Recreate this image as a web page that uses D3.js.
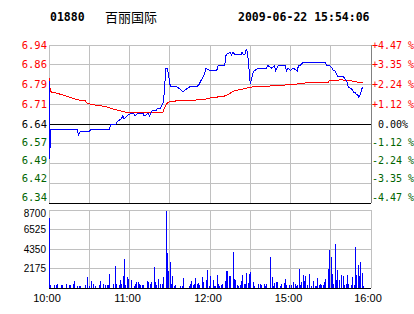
<!DOCTYPE html>
<html lang="zh">
<head>
<meta charset="UTF-8">
<title>01880 百丽国际</title>
<script src="https://d3js.org/d3.v7.min.js"></script>
<style>
  body { margin: 0; background: #fff; }
  svg { display: block; }
  .mono { font-family: "DejaVu Sans Mono", monospace; font-size: 10px; }
  .sans { font-family: "Liberation Sans", Arial, sans-serif; }
  .grid { stroke: #c0c0c0; shape-rendering: crispEdges; }
</style>
</head>
<body>
<div id="chart"></div>
<script>
// header
var stockCode = "01880";
var stockName = "百丽国际";
var stamp = "2009-06-22 15:54:06";

// axis labels
var prevClose = 6.64;
var pctStep = 0.011175;
var priceLabels = ["6.94", "6.86", "6.79", "6.71", "6.64", "6.57", "6.49", "6.42", "6.34"];
var pctLabels = ["+4.47 %", "+3.35 %", "+2.24 %", "+1.12 %", "0.00%", "-1.12 %", "-2.24 %", "-3.35 %", "-4.47 %"];
var volTicks = [8700, 6525, 4350, 2175];
var timeTicks = [0, 60, 120, 180, 240];
var timeLabels = ["10:00", "11:00", "12:00", "15:00", "16:00"];

// price line (minutes from 10:00, trading time only)
var priceMin = [0, 0, 1, 1, 21, 22, 23, 30, 31, 45, 46, 50, 51, 54, 55, 56, 58, 61, 63, 64, 66, 70, 71, 74, 75, 77, 80, 81, 83, 85, 86, 87, 88, 89, 90, 91, 95, 98, 100, 102, 105, 110, 112, 114, 116, 117, 120, 125, 126, 131, 132, 135, 136, 137, 139, 143, 144, 145, 146, 147, 148,
  150, 151, 152, 153, 156, 162, 163, 166, 168, 169, 171, 173, 176, 177, 178, 180, 182, 185, 186, 187, 189, 192, 194, 206, 207, 209, 211, 212, 213, 214, 215, 219, 222, 223, 226, 227, 228, 229, 230, 231, 232, 233, 234];
var priceVal = [6.80, 6.51, 6.56, 6.62, 6.62, 6.60, 6.61, 6.61, 6.62, 6.62, 6.64, 6.64, 6.65, 6.66, 6.67, 6.66, 6.67, 6.68, 6.68, 6.67, 6.68, 6.68, 6.67, 6.68, 6.67, 6.69, 6.69, 6.70, 6.70, 6.72, 6.76, 6.85, 6.85, 6.83, 6.79, 6.78, 6.78, 6.77, 6.76, 6.77, 6.78, 6.78, 6.79, 6.81, 6.83, 6.85, 6.84, 6.84, 6.86, 6.86, 6.90, 6.91, 6.90, 6.91, 6.90, 6.90, 6.91, 6.90, 6.90, 6.92, 6.91,
  6.79, 6.81, 6.83, 6.84, 6.85, 6.85, 6.86, 6.85, 6.86, 6.84, 6.86, 6.86, 6.86, 6.84, 6.85, 6.84, 6.85, 6.84, 6.86, 6.86, 6.87, 6.87, 6.87, 6.87, 6.86, 6.86, 6.85, 6.84, 6.84, 6.83, 6.82, 6.82, 6.80, 6.78, 6.77, 6.76, 6.76, 6.75, 6.75, 6.74, 6.75, 6.77, 6.78];

// average price line
var avgMin = [0, 1, 2, 7, 12, 17, 21, 27, 28, 32, 42, 47, 52, 57, 59, 85, 86, 88, 90, 92, 109, 110, 117, 120, 125, 132, 136, 139, 145, 150, 152, 164, 165, 175, 176, 188, 191, 208, 209, 218, 222, 228, 231, 234];
var avgVal = [6.813, 6.762, 6.760, 6.754, 6.746, 6.738, 6.731, 6.728, 6.719, 6.713, 6.706, 6.697, 6.691, 6.685, 6.684, 6.684, 6.700, 6.718, 6.725, 6.726, 6.729, 6.731, 6.734, 6.738, 6.741, 6.746, 6.759, 6.766, 6.772, 6.778, 6.780, 6.780, 6.783, 6.783, 6.788, 6.791, 6.794, 6.796, 6.803, 6.806, 6.804, 6.800, 6.796, 6.796];

// volume per minute, minutes 0..234
var volume = [
  7800, 300, 0, 0, 300, 370, 480, 0, 0, 370,
  300, 0, 0, 480, 0, 300, 370, 0, 480, 810,
  0, 260, 260, 260, 0, 0, 0, 370, 1250, 0,
  260, 810, 0, 480, 260, 0, 0, 370, 810, 0,
  480, 0, 300, 370, 300, 1585, 0, 0, 480, 2470,
  480, 0, 370, 885, 480, 1364, 3244, 370, 1253, 1032,
  0, 885, 0, 260, 480, 665, 665, 480, 370, 300,
  370, 0, 0, 810, 665, 480, 630, 0, 2360, 665,
  370, 1032, 0, 480, 480, 1253, 0, 8550, 3870, 1917,
  2875, 480, 1364, 260, 370, 0, 0, 0, 260, 260,
  1143, 0, 0, 0, 260, 480, 810, 370, 480, 1143,
  480, 550, 370, 0, 1253, 630, 0, 885, 2027, 260,
  1364, 0, 920, 260, 260, 1475, 480, 260, 370, 480,
  0, 810, 1843, 1917, 1364, 1290, 0, 4018, 1032, 885,
  370, 260, 370, 810, 1475, 480, 480, 1660, 550, 1585,
  1733, 0, 665, 260, 0, 0, 480, 480, 370, 0,
  480, 260, 480, 0, 0, 3465, 1253, 260, 550, 665,
  665, 0, 260, 480, 0, 550, 1032, 370, 0, 370,
  370, 0, 665, 480, 260, 370, 2138, 370, 665, 1475,
  810, 1364, 370, 0, 1585, 260, 0, 810, 260, 260,
  1143, 370, 480, 370, 370, 665, 1032, 0, 2138, 4239,
  3428, 1548, 480, 4865, 885, 2027, 885, 0, 1475, 1364,
  370, 480, 1475, 480, 0, 370, 1253, 370, 4570, 1475,
  2580, 1364, 2875, 1660, 260
];

var width = 414, height = 314;
var left = 49, right = 371;
var pTop = 45, pBottom = 203;
var vTop = 210, vBottom = 288;
var green = "#006400";

var svg = d3.select("#chart").append("svg")
    .attr("width", width)
    .attr("height", height);

var x = d3.scaleLinear().domain([0, 240]).range([left, right]);
var yP = d3.scaleLinear()
    .domain([prevClose * (1 - 4 * pctStep), prevClose * (1 + 4 * pctStep)])
    .range([pBottom, pTop]);
var yV = d3.scaleLinear().domain([0, 8700]).range([vBottom, vTop]);

var levels = d3.range(4, -5, -1);   // 4 .. -4
function levelPrice(k) { return prevClose * (1 + k * pctStep); }

// header
svg.append("text").attr("class", "mono")
    .attr("x", 50).attr("y", 21)
    .style("font-size", "11.5px").style("font-weight", "bold")
    .text(stockCode);
svg.append("text")
    .attr("x", 105).attr("y", 22)
    .style("font-family", "'Noto Sans CJK SC', sans-serif").style("font-size", "13px")
    .text(stockName);
svg.append("text").attr("class", "mono")
    .attr("x", 238).attr("y", 21)
    .style("font-size", "11.5px").style("font-weight", "bold")
    .text(stamp);

// price panel grid
var grid = svg.append("g");
grid.selectAll(".hp")
  .data(levels.filter(function(k) { return k > -4 && k !== 0; }))
  .enter().append("line")
    .attr("class", "grid")
    .attr("x1", left).attr("x2", right)
    .attr("y1", function(k) { return yP(levelPrice(k)); })
    .attr("y2", function(k) { return yP(levelPrice(k)); });

grid.selectAll(".vp")
  .data(d3.range(0, 241, 30))
  .enter().append("line")
    .attr("class", "grid")
    .attr("x1", function(d) { return x(d); }).attr("x2", function(d) { return x(d); })
    .attr("y1", pTop).attr("y2", pBottom);

// volume panel grid
grid.selectAll(".hv")
  .data(volTicks)
  .enter().append("line")
    .attr("class", "grid")
    .attr("x1", left).attr("x2", right)
    .attr("y1", function(d) { return yV(d); })
    .attr("y2", function(d) { return yV(d); });

grid.selectAll(".vv")
  .data(d3.range(0, 241, 30))
  .enter().append("line")
    .attr("class", "grid")
    .attr("x1", function(d) { return x(d); }).attr("x2", function(d) { return x(d); })
    .attr("y1", vTop).attr("y2", vBottom);

// darker right edge of price panel
svg.append("line")
    .attr("x1", right).attr("x2", right).attr("y1", pTop).attr("y2", pBottom)
    .style("stroke", "#808080").style("shape-rendering", "crispEdges");

// black reference lines
[yP(prevClose), pBottom, vBottom].forEach(function(yy) {
  svg.append("line")
      .attr("x1", left).attr("x2", right).attr("y1", yy).attr("y2", yy)
      .style("stroke", "#000").style("shape-rendering", "crispEdges");
});

// left price labels
svg.append("g").selectAll("text")
  .data(levels)
  .enter().append("text")
    .attr("class", "mono")
    .attr("x", 47)
    .attr("y", function(k) { return yP(levelPrice(k)) + (k < 0 ? 1.5 * k : 0); })
    .attr("dy", "0.35em")
    .attr("text-anchor", "end")
    .style("font-size", "10.5px")
    .style("fill", function(k) { return k > 0 ? "#f00" : (k < 0 ? green : "#000"); })
    .text(function(k, i) { return priceLabels[i]; });

// right percent labels
svg.append("g").selectAll("text")
  .data(levels)
  .enter().append("text")
    .attr("class", "mono")
    .attr("x", 393)
    .attr("y", function(k) { return yP(levelPrice(k)) + (k < 0 ? 1.5 * k : 0); })
    .attr("dy", "0.35em")
    .attr("text-anchor", "middle")
    .style("fill", function(k) { return k > 0 ? "#f00" : (k < 0 ? green : "#000"); })
    .text(function(k, i) { return pctLabels[i]; });

// volume labels
svg.append("g").selectAll("text")
  .data(volTicks)
  .enter().append("text")
    .attr("class", "sans")
    .attr("x", 46)
    .attr("y", function(d) { return Math.max(yV(d), vTop + 3); })
    .attr("dy", "0.35em")
    .attr("text-anchor", "end")
    .style("font-size", "10px")
    .text(function(d) { return d; });

// time labels
svg.append("g").selectAll("text")
  .data(timeTicks)
  .enter().append("text")
    .attr("class", "sans")
    .attr("x", function(d) { return Math.min(x(d) - 2, 368); })
    .attr("y", 302)
    .attr("text-anchor", "middle")
    .style("font-size", "11px")
    .text(function(d, i) { return timeLabels[i]; });

// volume bars
svg.append("g").selectAll("rect")
  .data(volume.map(function(v, i) { return [i, v]; }).filter(function(d) { return d[1] > 0; }))
  .enter().append("rect")
    .attr("x", function(d) { return Math.round(x(d[0])); })
    .attr("width", 1)
    .attr("y", function(d) { return yV(d[1]); })
    .attr("height", function(d) { return vBottom - yV(d[1]); })
    .style("fill", "#0000ff")
    .style("shape-rendering", "crispEdges");

// lines
var line = d3.line()
    .x(function(d) { return x(d[0]); })
    .y(function(d) { return yP(d[1]); });

svg.append("path")
    .datum(d3.zip(avgMin, avgVal))
    .attr("d", line)
    .style("fill", "none").style("stroke", "#f00").style("stroke-width", 1)
    .style("shape-rendering", "crispEdges");

svg.append("path")
    .datum(d3.zip(priceMin, priceVal))
    .attr("d", line)
    .style("fill", "none").style("stroke", "#0000ff").style("stroke-width", 1)
    .style("shape-rendering", "crispEdges");
</script>
</body>
</html>
